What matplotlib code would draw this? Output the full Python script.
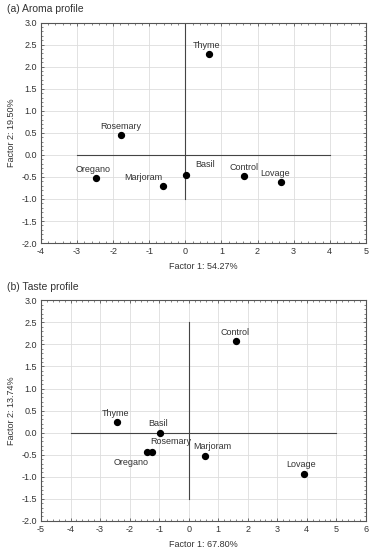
import matplotlib
matplotlib.use("Agg")
import matplotlib.pyplot as plt
from matplotlib.ticker import MultipleLocator, AutoMinorLocator, FormatStrFormatter

plt.rcParams['font.family'] = ['Liberation Sans', 'DejaVu Sans']
plt.rcParams['axes.unicode_minus'] = False

# (a) aroma profile
aroma_names = ["Thyme", "Rosemary", "Oregano", "Marjoram", "Basil", "Control", "Lovage"]
aroma_f1 = [0.65, -1.78, -2.48, -0.62, 0.02, 1.62, 2.65]
aroma_f2 = [2.28, 0.45, -0.52, -0.70, -0.45, -0.48, -0.62]
aroma_offsets = [(-2, 3), (0, 3), (-2, 3), (-14, 3), (14, 4), (0, 3), (-4, 3)]

# (b) taste profile
taste_names = ["Control", "Thyme", "Basil", "Rosemary", "Oregano", "Marjoram", "Lovage"]
taste_f1 = [1.60, -2.42, -0.98, -1.23, -1.42, 0.57, 3.90]
taste_f2 = [2.07, 0.23, 0.0, -0.45, -0.45, -0.52, -0.93]
taste_offsets = [(-1, 3), (-1, 3), (-1, 3), (13, 5), (-11, -4), (5, 3), (-2, 3)]
taste_va = ['bottom', 'bottom', 'bottom', 'bottom', 'top', 'bottom', 'bottom']

fig = plt.figure(figsize=(3.76, 5.5), dpi=100)
txt = "#333333"
fs = 6.5


def panel(ax, names, xs, ys, offsets, vas, xlim, hline, vline, title, xlabel, ylabel):
    ax.set_xlim(*xlim)
    ax.set_ylim(-2, 3)
    ax.xaxis.set_major_locator(MultipleLocator(1))
    ax.yaxis.set_major_locator(MultipleLocator(0.5))
    ax.xaxis.set_minor_locator(AutoMinorLocator(5))
    ax.yaxis.set_minor_locator(AutoMinorLocator(5))
    ax.yaxis.set_major_formatter(FormatStrFormatter('%.1f'))
    ax.grid(True, which='major', color='#dddddd', linewidth=0.6)
    ax.set_axisbelow(True)
    ax.tick_params(which='both', direction='in', top=True, right=True, labelsize=fs,
                   labelcolor=txt, color='#555555', pad=3)
    ax.tick_params(which='major', length=2.5, width=0.6)
    ax.tick_params(which='minor', length=1.5, width=0.5)
    for s in ax.spines.values():
        s.set_color('#555555')
        s.set_linewidth(0.8)
    ax.plot(hline, [0, 0], color='#444444', linewidth=0.8)
    ax.plot([0, 0], vline, color='#444444', linewidth=0.8)
    ax.scatter(xs, ys, s=18, color='black', zorder=3)
    for n, x, y, off, va in zip(names, xs, ys, offsets, vas):
        ax.annotate(n, (x, y), xytext=off, textcoords='offset points',
                    ha='center', va=va, fontsize=fs, color=txt)
    ax.set_xlabel(xlabel, fontsize=fs, color=txt, labelpad=4)
    ax.set_ylabel(ylabel, fontsize=fs, color=txt, labelpad=4)
    fig.text(0.018, ax.get_position().y1 + 0.016, title, fontsize=7.5, color=txt, va='bottom')


ax1 = fig.add_axes([0.109, 0.558, 0.864, 0.401])
panel(ax1, aroma_names, aroma_f1, aroma_f2, aroma_offsets, ['bottom'] * 7, (-4, 5), [-3, 4], [-1, 3],
      "(a) Aroma profile", "Factor 1: 54.27%", "Factor 2: 19.50%")

ax2 = fig.add_axes([0.109, 0.053, 0.864, 0.401])
panel(ax2, taste_names, taste_f1, taste_f2, taste_offsets, taste_va, (-5, 6), [-4, 5], [-1.5, 2.5],
      "(b) Taste profile", "Factor 1: 67.80%", "Factor 2: 13.74%")

fig.savefig("out.png", dpi=100)
